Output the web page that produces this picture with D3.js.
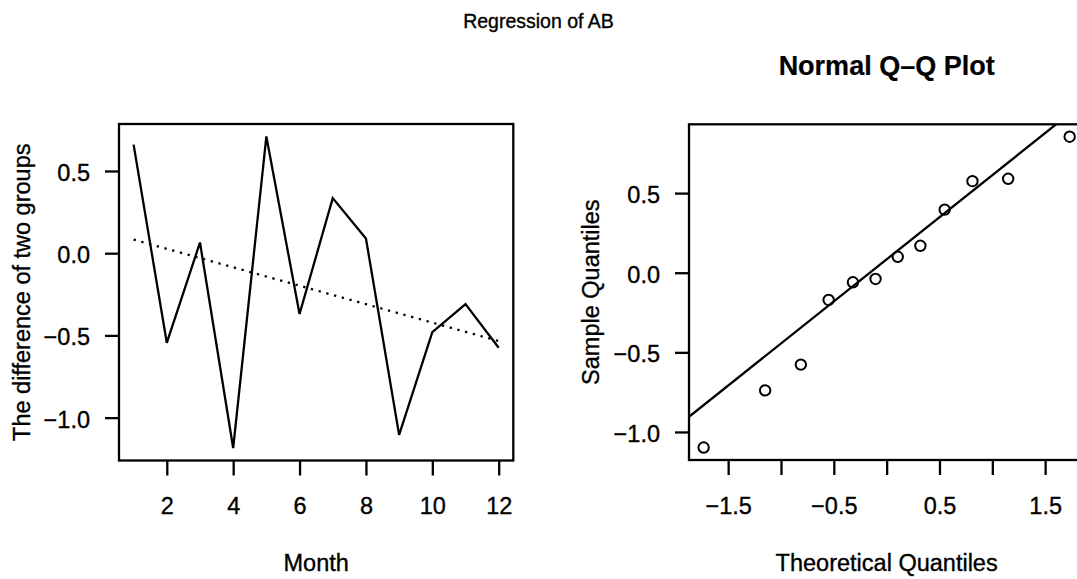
<!DOCTYPE html>
<html>
<head>
<meta charset="utf-8">
<script src="https://cdn.jsdelivr.net/npm/d3@7"></script>
<style>
  body { margin: 0; background: #fff; }
  svg text { font-family: "Liberation Sans", Arial, Helvetica, sans-serif; fill: #000; stroke: #000; stroke-width: 0.35px; }
</style>
</head>
<body>
<div class="chart"></div>
<script>
// monthly difference of two groups
const months = [1, 2, 3, 4, 5, 6, 7, 8, 9, 10, 11, 12];
const diffs = [0.66, -0.545, 0.065, -1.185, 0.71, -0.37, 0.335, 0.09, -1.105, -0.48, -0.31, -0.575];

// normal q-q of the residuals
const theoQ = [-1.732, -1.150, -0.812, -0.549, -0.319, -0.105, 0.105, 0.319, 0.549, 0.812, 1.150, 1.732];
const sampleQ = [-1.098, -0.739, -0.577, -0.171, -0.060, -0.039, 0.100, 0.169, 0.396, 0.575, 0.590, 0.854];

// ticks
const monthTicks = [2, 4, 6, 8, 10, 12];
const diffTicks = [-1.0, -0.5, 0.0, 0.5];
const qqXTicks = [-1.5, -1.0, -0.5, 0.0, 0.5, 1.0, 1.5];
const qqXLabels = [-1.5, -0.5, 0.5, 1.5];
const qqYTicks = [-1.0, -0.5, 0.0, 0.5];

const width = 1077, height = 579;
const fs = 23.5;
const lw = 2.3;

const svg = d3.select(".chart").append("svg")
    .attr("width", width)
    .attr("height", height);

svg.append("rect").attr("width", width).attr("height", height).attr("fill", "#fff");

// R style 4% padding on the data range
function pad(ext) {
  const d = (ext[1] - ext[0]) * 0.04;
  return [ext[0] - d, ext[1] + d];
}

const fmt = d3.format(".1f");

function drawPanel(box, x, y, xTicks, xLabels, xFmt, yTicks) {
  const g = svg.append("g");

  g.append("rect")
      .attr("x", box.left).attr("y", box.top)
      .attr("width", box.right - box.left).attr("height", box.bottom - box.top)
      .attr("fill", "none").attr("stroke", "#000").attr("stroke-width", lw);

  const xa = g.append("g")
      .attr("transform", `translate(0,${box.bottom})`)
      .call(d3.axisBottom(x).tickValues(xTicks).tickSize(15)
        .tickFormat(d => xLabels.includes(d) ? xFmt(d) : ""));
  xa.select(".domain").remove();
  xa.selectAll("line").attr("stroke", "#000").attr("stroke-width", lw);
  xa.selectAll("text")
      .attr("y", 53.5).attr("dy", null)
      .style("font-size", fs + "px");

  const ya = g.append("g")
      .attr("transform", `translate(${box.left},0)`)
      .call(d3.axisLeft(y).tickValues(yTicks).tickSize(14).tickFormat(fmt));
  ya.select(".domain").remove();
  ya.selectAll("line").attr("stroke", "#000").attr("stroke-width", lw);
  ya.selectAll("text")
      .attr("x", -29).attr("dy", "0.4em")
      .style("font-size", fs + "px");

  return g;
}

// ---------- left panel: line chart with fitted trend ----------
const boxL = {left: 119, right: 513.3, top: 124, bottom: 460.5};
const xL = d3.scaleLinear().domain(pad(d3.extent(months))).range([boxL.left, boxL.right]);
const yL = d3.scaleLinear().domain(pad(d3.extent(diffs))).range([boxL.bottom, boxL.top]);

const gL = drawPanel(boxL, xL, yL, monthTicks, monthTicks, d => d, diffTicks);

const series = months.map((m, i) => ({m: m, v: diffs[i]}));

gL.append("path")
    .datum(series)
    .attr("fill", "none").attr("stroke", "#000").attr("stroke-width", lw)
    .attr("stroke-linejoin", "miter")
    .attr("d", d3.line().x(d => xL(d.m)).y(d => yL(d.v)));

// least squares fit
const mx = d3.mean(months), my = d3.mean(diffs);
const slope = d3.sum(series, d => (d.m - mx) * (d.v - my)) / d3.sum(series, d => (d.m - mx) ** 2);
const icpt = my - slope * mx;

gL.append("path")
    .datum(series)
    .attr("fill", "none").attr("stroke", "#000").attr("stroke-width", lw)
    .attr("stroke-dasharray", "2.3,5.7")
    .attr("d", d3.line().x(d => xL(d.m)).y(d => yL(icpt + slope * d.m)));

gL.append("text")
    .attr("x", (boxL.left + boxL.right) / 2).attr("y", 571)
    .attr("text-anchor", "middle")
    .style("font-size", fs + "px")
    .text("Month");

gL.append("text")
    .attr("transform", `translate(30,${(boxL.top + boxL.bottom) / 2}) rotate(-90)`)
    .attr("text-anchor", "middle")
    .style("font-size", fs + "px")
    .text("The difference of two groups");

// ---------- right panel: normal q-q plot ----------
const boxR = {left: 689, right: 1084.3, top: 124.3, bottom: 460};
const xR = d3.scaleLinear().domain(pad(d3.extent(theoQ))).range([boxR.left, boxR.right]);
const yR = d3.scaleLinear().domain(pad(d3.extent(sampleQ))).range([boxR.bottom, boxR.top]);

const gR = drawPanel(boxR, xR, yR, qqXTicks, qqXLabels, fmt, qqYTicks);

svg.append("clipPath").attr("id", "clipR")
  .append("rect")
    .attr("x", boxR.left).attr("y", boxR.top)
    .attr("width", boxR.right - boxR.left).attr("height", boxR.bottom - boxR.top);

// qqline through the quartiles
const q1 = d3.quantile(sampleQ, 0.25), q3 = d3.quantile(sampleQ, 0.75);
const z = 0.6744898;
const qSlope = (q3 - q1) / (2 * z);
const qIcpt = q1 + z * qSlope;
const xDom = xR.domain();

gR.append("line")
    .attr("clip-path", "url(#clipR)")
    .attr("x1", xR(xDom[0])).attr("y1", yR(qIcpt + qSlope * xDom[0]))
    .attr("x2", xR(xDom[1])).attr("y2", yR(qIcpt + qSlope * xDom[1]))
    .attr("stroke", "#000").attr("stroke-width", lw);

gR.selectAll("circle")
    .data(theoQ.map((t, i) => ({t: t, s: sampleQ[i]})))
    .enter()
    .append("circle")
    .attr("cx", d => xR(d.t))
    .attr("cy", d => yR(d.s))
    .attr("r", 5.2)
    .attr("fill", "none")
    .attr("stroke", "#000")
    .attr("stroke-width", 2);

gR.append("text")
    .attr("x", (boxR.left + boxR.right) / 2).attr("y", 75)
    .attr("text-anchor", "middle")
    .style("font-size", "27px").style("font-weight", "bold").style("stroke-width", "0.2px")
    .text("Normal Q\u2013Q Plot");

gR.append("text")
    .attr("x", (boxR.left + boxR.right) / 2).attr("y", 571)
    .attr("text-anchor", "middle")
    .style("font-size", fs + "px")
    .text("Theoretical Quantiles");

gR.append("text")
    .attr("transform", `translate(599,${(boxR.top + boxR.bottom) / 2}) rotate(-90)`)
    .attr("text-anchor", "middle")
    .style("font-size", fs + "px")
    .text("Sample Quantiles");

// outer title
svg.append("text")
    .attr("x", width / 2).attr("y", 28)
    .attr("text-anchor", "middle")
    .style("font-size", "19.5px")
    .text("Regression of AB");
</script>
</body>
</html>
